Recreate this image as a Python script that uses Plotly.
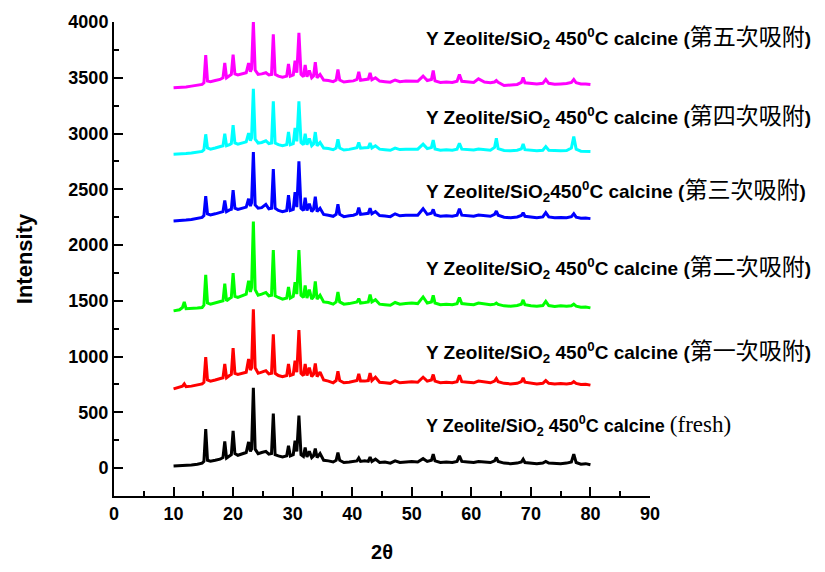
import plotly.graph_objects as go

# 2-theta positions (degrees) shared by all patterns
two_theta = [10, 11, 11.5, 11.8, 12.1, 13, 14, 14.8, 15.1, 15.4, 15.7, 16.2, 17, 17.8, 18.3, 18.6, 18.9,
             19.4, 19.7, 20.0, 20.3, 20.8, 21.5, 22.2, 22.6, 22.9, 23.1, 23.4, 23.7, 24.2, 24.8, 25.5,
             26.0, 26.45, 26.75, 27.05, 27.6, 28.3, 29.0, 29.3, 29.6, 30.1, 30.4, 30.7, 31.05, 31.4,
             31.8, 32.1, 32.4, 32.8, 33.2, 33.5, 33.8, 34.1, 34.6, 35.2, 36.0, 36.8, 37.3, 37.6, 37.9,
             38.6, 39.5, 40.2, 40.8, 41.1, 41.4, 42.1, 42.7, 43.0, 43.3, 43.9, 44.6, 45.5, 46.4, 47.2,
             48.0, 49.0, 50.0, 51.0, 51.9, 52.6, 53.3, 53.6, 53.9, 54.8, 55.8, 56.8, 57.6, 58.0, 58.4,
             59.4, 60.4, 61.2, 62.2, 63.2, 63.9, 64.2, 64.5, 65.5, 66.6, 67.7, 68.4, 68.7, 69.0, 70.0,
             71.0, 72.0, 72.5, 73.0, 74.0, 75.0, 76.0, 76.8, 77.2, 77.6, 78.4, 79.2, 80.0]

fresh = [18, 20, 22, 24, 22, 28, 35, 45, 60, 350, 70, 62, 70, 80, 95, 240, 90,
         110, 120, 335, 130, 115, 125, 140, 235, 150, 170, 720, 170, 130, 140, 150,
         125, 130, 490, 120, 110, 100, 110, 200, 110, 120, 245, 150, 470, 120,
         105, 185, 100, 150, 95, 110, 175, 95, 130, 70, 65, 55, 70, 140, 70,
         50, 55, 60, 65, 90, 60, 65, 60, 100, 60, 80, 50, 55, 45, 65,
         50, 55, 60, 55, 85, 60, 70, 125, 65, 50, 55, 50, 60, 110, 60,
         55, 50, 60, 55, 50, 65, 95, 60, 45, 40, 45, 55, 80, 50, 45,
         40, 45, 60, 45, 40, 40, 45, 55, 125, 50, 35, 40, 30]

ads_1 = [711, 725, 735, 755, 730, 735, 745, 755, 770, 996, 790, 780, 790, 800, 810, 933, 810,
         830, 840, 1076, 850, 840, 850, 860, 978, 880, 900, 1425, 900, 850, 860, 874,
         845, 850, 1200, 850, 830, 820, 830, 933, 830, 840, 963, 860, 1238, 850,
         830, 933, 830, 900, 820, 840, 939, 820, 860, 790, 780, 765, 785, 868, 785,
         765, 770, 775, 785, 844, 780, 780, 785, 853, 785, 815, 770, 765, 760, 785,
         765, 770, 775, 770, 815, 780, 790, 839, 780, 765, 770, 765, 775, 833, 775,
         770, 765, 780, 770, 765, 780, 803, 775, 760, 755, 760, 775, 809, 770, 760,
         755, 760, 785, 760, 755, 758, 755, 760, 775, 760, 750, 752, 744]

ads_2 = [1410, 1420, 1440, 1490, 1430, 1430, 1435, 1440, 1460, 1733, 1480, 1470, 1480, 1490, 1500, 1653, 1500,
         1520, 1530, 1748, 1540, 1530, 1545, 1560, 1680, 1580, 1620, 2210, 1600, 1550, 1560, 1575,
         1545, 1550, 1956, 1545, 1530, 1515, 1525, 1624, 1525, 1540, 1668, 1560, 1956, 1550,
         1530, 1638, 1525, 1600, 1515, 1535, 1674, 1515, 1550, 1490, 1485, 1470, 1490, 1579, 1490,
         1470, 1475, 1480, 1490, 1520, 1480, 1485, 1490, 1555, 1490, 1510, 1470, 1465, 1460, 1485,
         1470, 1475, 1480, 1475, 1535, 1480, 1490, 1549, 1480, 1465, 1470, 1465, 1475, 1529, 1475,
         1470, 1465, 1480, 1470, 1465, 1470, 1480, 1468, 1455, 1452, 1458, 1470, 1508, 1465, 1455,
         1452, 1458, 1495, 1458, 1450, 1455, 1452, 1455, 1470, 1452, 1442, 1445, 1437]

ads_3 = [2216, 2218, 2222, 2225, 2224, 2230, 2238, 2248, 2265, 2438, 2280, 2270, 2280, 2290, 2300, 2400, 2300,
         2315, 2320, 2492, 2330, 2320, 2330, 2340, 2415, 2350, 2380, 2833, 2360, 2330, 2335, 2365,
         2325, 2330, 2682, 2330, 2310, 2300, 2310, 2447, 2310, 2320, 2474, 2340, 2750, 2330,
         2310, 2424, 2310, 2370, 2300, 2320, 2433, 2300, 2330, 2275, 2268, 2258, 2275, 2365, 2275,
         2255, 2262, 2268, 2280, 2335, 2275, 2280, 2285, 2330, 2280, 2300, 2265, 2260, 2255, 2280,
         2262, 2268, 2270, 2268, 2326, 2275, 2285, 2320, 2272, 2258, 2262, 2258, 2268, 2326, 2268,
         2262, 2258, 2270, 2262, 2258, 2275, 2305, 2268, 2250, 2245, 2252, 2265, 2290, 2258, 2250,
         2245, 2252, 2290, 2252, 2245, 2248, 2245, 2255, 2281, 2250, 2240, 2242, 2237]

ads_4 = [2815, 2815, 2818, 2820, 2820, 2825, 2830, 2840, 2855, 2993, 2870, 2860, 2870, 2880, 2890, 2998, 2890,
         2900, 2910, 3076, 2915, 2905, 2915, 2925, 3004, 2935, 2960, 3401, 2950, 2915, 2920, 2935,
         2910, 2915, 3289, 2915, 2900, 2890, 2900, 3013, 2900, 2910, 3050, 2930, 3289, 2920,
         2900, 2998, 2900, 2955, 2890, 2905, 3013, 2890, 2920, 2870, 2865, 2855, 2870, 2948, 2870,
         2852, 2858, 2862, 2872, 2919, 2868, 2872, 2875, 2915, 2870, 2890, 2860, 2855, 2850, 2870,
         2856, 2860, 2862, 2860, 2905, 2865, 2875, 2942, 2862, 2850, 2855, 2850, 2860, 2913, 2860,
         2855, 2852, 2862, 2855, 2850, 2875, 2957, 2865, 2848, 2845, 2850, 2862, 2907, 2855, 2848,
         2845, 2850, 2883, 2850, 2845, 2846, 2848, 2870, 2972, 2860, 2842, 2840, 2838]

ads_5 = [3411, 3413, 3416, 3418, 3418, 3425, 3432, 3440, 3455, 3704, 3470, 3465, 3475, 3485, 3500, 3632, 3500,
         3520, 3530, 3707, 3535, 3525, 3535, 3545, 3632, 3555, 3580, 4000, 3570, 3530, 3535, 3545,
         3525, 3530, 3890, 3530, 3515, 3505, 3515, 3624, 3515, 3525, 3653, 3545, 3902, 3530,
         3510, 3615, 3510, 3565, 3500, 3515, 3640, 3500, 3530, 3480, 3476, 3465, 3480, 3573, 3480,
         3462, 3468, 3472, 3485, 3553, 3478, 3482, 3488, 3544, 3482, 3500, 3470, 3465, 3460, 3480,
         3465, 3470, 3472, 3468, 3515, 3475, 3485, 3564, 3472, 3458, 3462, 3458, 3468, 3529, 3468,
         3462, 3458, 3490, 3462, 3456, 3462, 3475, 3460, 3430, 3432, 3440, 3458, 3502, 3455, 3448,
         3445, 3450, 3484, 3450, 3442, 3445, 3448, 3458, 3484, 3455, 3445, 3445, 3440]

series = [fresh, ads_1, ads_2, ads_3, ads_4, ads_5]
colors = ["#000000", "#FF0000", "#00FF00", "#0000FF", "#00FFFF", "#FF00FF"]
tags = ["fresh", "第一次吸附", "第二次吸附", "第三次吸附", "第四次吸附", "第五次吸附"]
label_y = [380, 1067, 1822, 2516, 3172, 3885]

fig = go.Figure()
for ys, c, t in zip(series, colors, tags):
    fig.add_trace(go.Scatter(x=two_theta, y=ys, mode="lines", name=t,
                             line=dict(color=c, width=3), showlegend=False))

latin = "Liberation Sans"
for t, yv in zip(tags, label_y):
    sep = "" if t == "第三次吸附" else " "
    head = f"<b>Y Zeolite/SiO<sub>2</sub>{sep}450<sup>0</sup>C calcine </b>"
    if t == "fresh":
        tail = "<span style='font-family:Liberation Serif;font-weight:normal;font-size:23px'>(fresh)</span>"
        size = 18
    else:
        tail = ("<b>(</b><span style='font-family:Noto Sans CJK TC;font-weight:normal;font-size:23px'>"
                + t + "</span><b>)</b>")
        size = 19
    fig.add_annotation(x=52.1, y=yv, xref="x", yref="y", xanchor="left", yanchor="middle",
                       text=head + tail, showarrow=False,
                       font=dict(family=latin, size=size, color="black"))

axis_font = dict(family=latin, size=18, color="black", weight="bold")
fig.update_xaxes(range=[0, 90], dtick=10, tick0=0, showline=True, linewidth=2, linecolor="black",
                 ticks="inside", ticklen=9, tickwidth=2, tickcolor="black",
                 minor=dict(ticks="inside", ticklen=5, tickwidth=2, dtick=5, tickcolor="black"),
                 showgrid=False, zeroline=False, tickfont=axis_font,
                 title=dict(text="2θ", font=dict(family=latin, size=20, color="black", weight="bold"),
                            standoff=22))
fig.update_yaxes(range=[-250, 4000], dtick=500, tick0=0, showline=True, linewidth=2, linecolor="black",
                 ticks="inside", ticklen=9, tickwidth=2, tickcolor="black",
                 minor=dict(ticks="inside", ticklen=5, tickwidth=2, dtick=250, tickcolor="black"),
                 showgrid=False, zeroline=False, tickfont=axis_font,
                 title=dict(text="Intensity", font=dict(family=latin, size=22, color="black", weight="bold"),
                            standoff=30))
fig.update_layout(width=825, height=572, margin=dict(l=114, r=175, t=20, b=73),
                  plot_bgcolor="white", paper_bgcolor="white")
fig.write_html("out.html")
